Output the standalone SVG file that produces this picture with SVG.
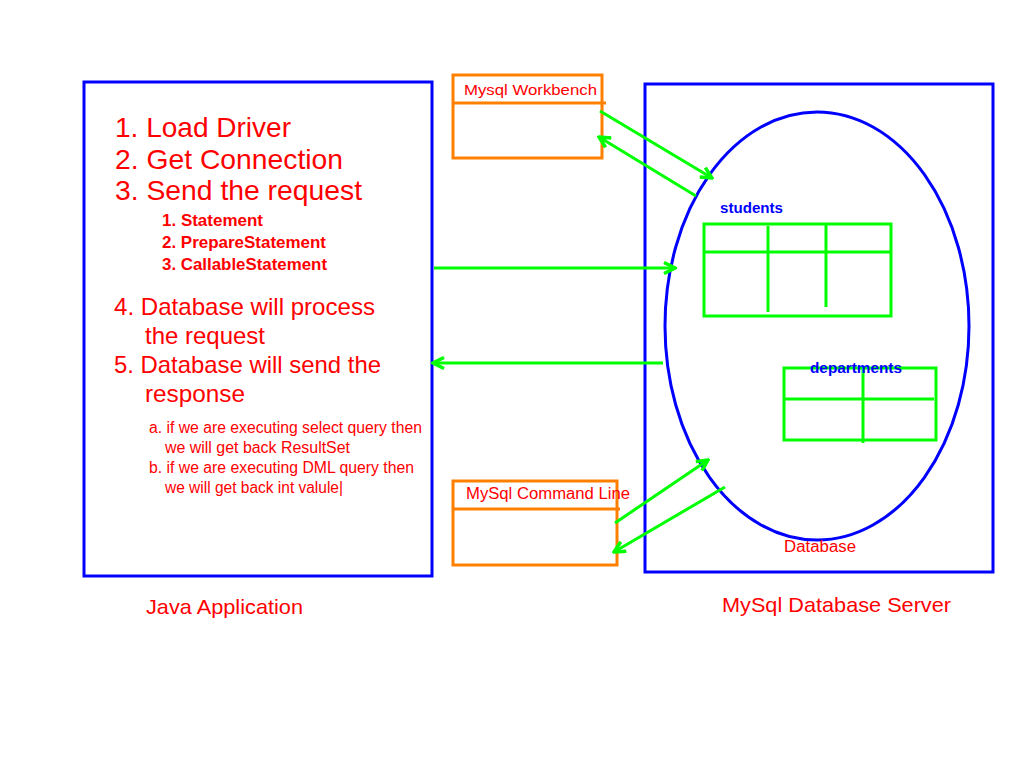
<svg xmlns="http://www.w3.org/2000/svg" width="1024" height="768" viewBox="0 0 1024 768">
<defs>
<style>
.blue{fill:none;stroke:#0000ff;stroke-width:3}
.org{fill:none;stroke:#ff8000;stroke-width:3}
.grn{fill:none;stroke:#00ff00;stroke-width:3}
.con{fill:none;stroke:#00ff00;stroke-width:3;marker-end:url(#ah)}
.red{fill:#ff0000;font-family:"Liberation Sans",Arial,sans-serif}
.bl{fill:#0000ff;font-family:"Liberation Sans",Arial,sans-serif;font-weight:bold;font-size:15px}
</style>
<marker id="ah" viewBox="0 0 14 14" refX="12" refY="7" markerWidth="14" markerHeight="14" markerUnits="userSpaceOnUse" orient="auto">
<path d="M1,1.5 L12,7 L1,12.5" fill="none" stroke="#00ff00" stroke-width="3.5"/>
</marker>
</defs>
<rect width="1024" height="768" fill="#fff"/>
<g id="java-app">
<rect class="blue" x="84" y="82" width="348" height="494"/>
<text class="red" font-size="28" x="115" y="137" textLength="176" lengthAdjust="spacingAndGlyphs">1. Load Driver</text>
<text class="red" font-size="28" x="115" y="169" textLength="228" lengthAdjust="spacingAndGlyphs">2. Get Connection</text>
<text class="red" font-size="28" x="115" y="200" textLength="247" lengthAdjust="spacingAndGlyphs">3. Send the request</text>
<text class="red" font-size="17" font-weight="bold" x="162" y="226" textLength="101" lengthAdjust="spacingAndGlyphs">1. Statement</text>
<text class="red" font-size="17" font-weight="bold" x="162" y="248" textLength="164" lengthAdjust="spacingAndGlyphs">2. PrepareStatement</text>
<text class="red" font-size="17" font-weight="bold" x="162" y="270" textLength="165" lengthAdjust="spacingAndGlyphs">3. CallableStatement</text>
<text class="red" font-size="24" x="114" y="315" textLength="261" lengthAdjust="spacingAndGlyphs">4. Database will process</text>
<text class="red" font-size="24" x="145" y="344" textLength="120" lengthAdjust="spacingAndGlyphs">the request</text>
<text class="red" font-size="24" x="114" y="373" textLength="267" lengthAdjust="spacingAndGlyphs">5. Database will send the</text>
<text class="red" font-size="24" x="145" y="402" textLength="100" lengthAdjust="spacingAndGlyphs">response</text>
<text class="red" font-size="16" x="149" y="433" textLength="273" lengthAdjust="spacingAndGlyphs">a. if we are executing select query then</text>
<text class="red" font-size="16" x="165" y="453" textLength="185" lengthAdjust="spacingAndGlyphs">we will get back ResultSet</text>
<text class="red" font-size="16" x="149" y="473" textLength="265" lengthAdjust="spacingAndGlyphs">b. if we are executing DML query then</text>
<text class="red" font-size="16" x="165" y="493" textLength="178" lengthAdjust="spacingAndGlyphs">we will get back int valule|</text>
<text class="red" font-size="21" x="146" y="614" textLength="157" lengthAdjust="spacingAndGlyphs">Java Application</text>
</g>
<g id="workbench">
<rect class="org" x="453" y="75" width="149" height="83"/>
<line class="org" x1="453" y1="103" x2="606" y2="103"/>
<text class="red" font-size="15" x="464" y="95" textLength="133" lengthAdjust="spacingAndGlyphs">Mysql Workbench</text>
</g>
<g id="command-line">
<rect class="org" x="453" y="481" width="164" height="84"/>
<line class="org" x1="453" y1="509" x2="620" y2="509"/>
<text class="red" font-size="16" x="466" y="499" textLength="164" lengthAdjust="spacingAndGlyphs">MySql Command Line</text>
</g>
<g id="db-server">
<rect class="blue" x="645" y="84" width="348" height="488"/>
<text class="red" font-size="21" x="722" y="612" textLength="229" lengthAdjust="spacingAndGlyphs">MySql Database Server</text>
</g>
<g id="database">
<ellipse class="blue" cx="817" cy="326" rx="152" ry="214"/>
<text class="red" font-size="16" x="784" y="552" textLength="72" lengthAdjust="spacingAndGlyphs">Database</text>
</g>
<g id="students">
<rect class="grn" x="704" y="224" width="187" height="92"/>
<line class="grn" x1="704" y1="252" x2="891" y2="252"/>
<line class="grn" x1="768" y1="226" x2="768" y2="312"/>
<line class="grn" x1="826" y1="224" x2="826" y2="307"/>
<text class="bl" x="720" y="213" textLength="63" lengthAdjust="spacingAndGlyphs">students</text>
</g>
<g id="departments">
<rect class="grn" x="784" y="368" width="152" height="72"/>
<line class="grn" x1="784" y1="399" x2="934" y2="399"/>
<line class="grn" x1="863" y1="368" x2="863" y2="443"/>
<text class="bl" x="810" y="373" textLength="92" lengthAdjust="spacingAndGlyphs">departments</text>
</g>
<g id="connectors">
<line class="con" x1="600" y1="111" x2="712" y2="178"/>
<line class="con" x1="696" y1="196" x2="599" y2="137"/>
<line class="con" x1="434" y1="268" x2="675" y2="268"/>
<line class="con" x1="663" y1="363" x2="433" y2="363"/>
<line class="con" x1="615" y1="523" x2="708" y2="460"/>
<line class="con" x1="725" y1="487" x2="614" y2="552"/>
</g>
</svg>
